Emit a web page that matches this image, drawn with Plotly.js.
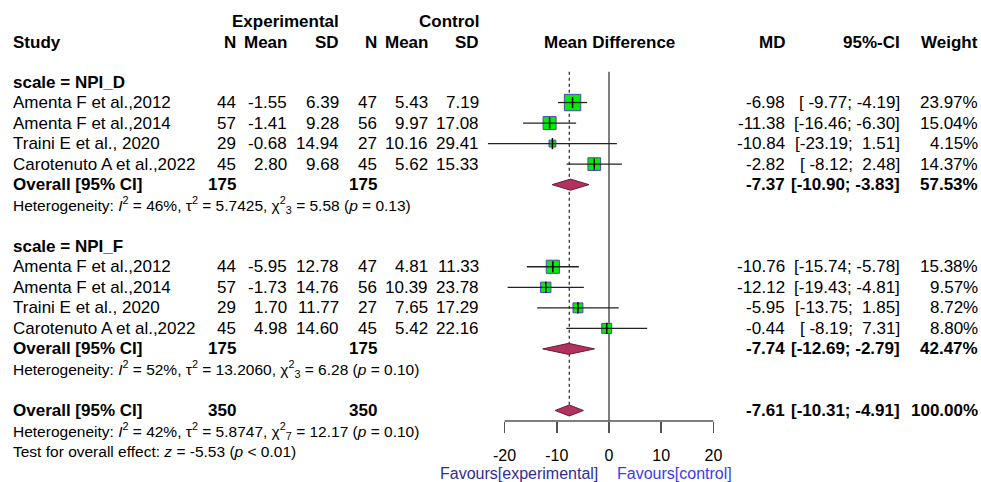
<!DOCTYPE html>
<html>
<head>
<meta charset="utf-8">
<script src="https://cdn.plot.ly/plotly-3.0.1.min.js"></script>
<style>html,body{margin:0;padding:0;background:#fff;}#chart{width:981px;height:482px;}</style>
</head>
<body>
<div id="chart"></div>
<script>
// ---------------- DATA ----------------
const studies = ["Amenta F et al.,2012", "Amenta F et al.,2014", "Traini E et al., 2020", "Carotenuto A et al.,2022"];
const groupLabels = ["scale = NPI_D", "scale = NPI_F"];

// NPI_D
const dExpN = [44, 57, 29, 45];
const dExpMean = [-1.55, -1.41, -0.68, 2.80];
const dExpSD = [6.39, 9.28, 14.94, 9.68];
const dCtlN = [47, 56, 27, 45];
const dCtlMean = [5.43, 9.97, 10.16, 5.62];
const dCtlSD = [7.19, 17.08, 29.41, 15.33];
const dMD = [-6.98, -11.38, -10.84, -2.82];
const dLo = [-9.77, -16.46, -23.19, -8.12];
const dHi = [-4.19, -6.30, 1.51, 2.48];
const dW = [23.97, 15.04, 4.15, 14.37];

// NPI_F
const fExpN = [44, 57, 29, 45];
const fExpMean = [-5.95, -1.73, 1.70, 4.98];
const fExpSD = [12.78, 14.76, 11.77, 14.60];
const fCtlN = [47, 56, 27, 45];
const fCtlMean = [4.81, 10.39, 7.65, 5.42];
const fCtlSD = [11.33, 23.78, 17.29, 22.16];
const fMD = [-10.76, -12.12, -5.95, -0.44];
const fLo = [-15.74, -19.43, -13.75, -8.19];
const fHi = [-5.78, -4.81, 1.85, 7.31];
const fW = [15.38, 9.57, 8.72, 8.80];

// Pooled: [NPI_D subgroup, NPI_F subgroup, overall]
const poolMD = [-7.37, -7.74, -7.61];
const poolLo = [-10.90, -12.69, -10.31];
const poolHi = [-3.83, -2.79, -4.91];
const poolW = [57.53, 42.47, 100.00];
const poolExpN = [175, 175, 350];
const poolCtlN = [175, 175, 350];

// Heterogeneity
const hetI2 = [46, 52, 42];
const hetTau2 = ["5.7425", "13.2060", "5.8747"];
const hetChi2 = ["5.58", "6.28", "12.17"];
const hetDf = [3, 3, 7];
const hetP = ["0.13", "0.10", "0.10"];
const testZ = "-5.53";
const testP = "< 0.01";

const xTicks = [-20, -10, 0, 10, 20];
const favLeft = "Favours[experimental]";
const favRight = "Favours[control]";

// ---------------- LAYOUT HELPERS ----------------
const W = 981, H = 482;
const row0px = 82, rowStep = 20.53;            // pixel of row 0 and row spacing
const yTop = -row0px / rowStep, yBot = (H - row0px) / rowStep;
const zeroPx = 609, pxPerUnit = 5.22, xHalf = 30;
const xDom = [(zeroPx - xHalf * pxPerUnit) / W, (zeroPx + xHalf * pxPerUnit) / W];
const axisPx = 421;
const axisPos = (H - axisPx) / H;
const px = p => p / W;

const FONT = "Liberation Sans, Arial, Helvetica, sans-serif";
const FS = 17, FSs = 15.5;

const groups = [
  {label: groupLabels[0], labelRow: 0, firstRow: 1, expN: dExpN, expMean: dExpMean, expSD: dExpSD, ctlN: dCtlN, ctlMean: dCtlMean, ctlSD: dCtlSD, md: dMD, lo: dLo, hi: dHi, w: dW},
  {label: groupLabels[1], labelRow: 8, firstRow: 9, expN: fExpN, expMean: fExpMean, expSD: fExpSD, ctlN: fCtlN, ctlMean: fCtlMean, ctlSD: fCtlSD, md: fMD, lo: fLo, hi: fHi, w: fW}
];
const poolRows = [5, 13, 16];
const hetRows = [6, 14, 17];
const testRow = 18;

// columns (right edges in px)
const col = {study: 12, expN: 237, expMean: 288, expSD: 340, ctlN: 378, ctlMean: 429, ctlSD: 480, md: 786, ci: 901, wt: 979};

const nb = "\u00A0";
function padL(s, n) { while (s.length < n) s = nb + s; return s; }
function ciStr(lo, hi, wl, wh) {
  return "[" + padL(lo.toFixed(2), wl) + "; " + padL(hi.toFixed(2), wh) + "]";
}
const wl = Math.max(...dLo.concat(fLo, poolLo).map(v => v.toFixed(2).length));
const wh = Math.max(...dHi.concat(fHi, poolHi).map(v => v.toFixed(2).length));

const ann = [];
function txt(text, xPx, row, anchor, opts) {
  opts = opts || {};
  ann.push({
    text: text, xref: "paper", x: px(xPx), yref: "y", y: row,
    xanchor: anchor, yanchor: "middle", showarrow: false, borderpad: 0,
    font: {family: FONT, size: opts.size || FS, color: opts.color || "#000"}
  });
}
const b = s => "<b>" + s + "</b>";

// headers
txt(b("Experimental"), col.expSD, -2.95, "right");
txt(b("Control"), col.ctlSD, -2.95, "right");
txt(b("Study"), col.study, -1.9, "left");
txt(b("N"), col.expN, -1.9, "right");
txt(b("Mean"), col.expMean, -1.9, "right");
txt(b("SD"), col.expSD, -1.9, "right");
txt(b("N"), col.ctlN, -1.9, "right");
txt(b("Mean"), col.ctlMean, -1.9, "right");
txt(b("SD"), col.ctlSD, -1.9, "right");
ann.push({text: b("Mean Difference"), xref: "x", x: 0, yref: "y", y: -1.9, xanchor: "center", yanchor: "middle", showarrow: false, borderpad: 0, font: {family: FONT, size: FS, color: "#000"}});
txt(b("MD"), col.md, -1.9, "right");
txt(b("95%-CI"), col.ci, -1.9, "right");
txt(b("Weight"), col.wt, -1.9, "right");

groups.forEach(g => {
  txt(b(g.label), col.study, g.labelRow, "left");
  studies.forEach((s, i) => {
    const r = g.firstRow + i;
    txt(s, col.study, r, "left");
    txt(String(g.expN[i]), col.expN, r, "right");
    txt(g.expMean[i].toFixed(2), col.expMean, r, "right");
    txt(g.expSD[i].toFixed(2), col.expSD, r, "right");
    txt(String(g.ctlN[i]), col.ctlN, r, "right");
    txt(g.ctlMean[i].toFixed(2), col.ctlMean, r, "right");
    txt(g.ctlSD[i].toFixed(2), col.ctlSD, r, "right");
    txt(g.md[i].toFixed(2), col.md, r, "right");
    txt(ciStr(g.lo[i], g.hi[i], wl, wh), col.ci, r, "right");
    txt(g.w[i].toFixed(2) + "%", col.wt, r, "right");
  });
});

poolRows.forEach((r, j) => {
  txt(b("Overall [95% CI]"), col.study, r, "left");
  txt(b(String(poolExpN[j])), col.expN, r, "right");
  txt(b(String(poolCtlN[j])), col.ctlN, r, "right");
  txt(b(poolMD[j].toFixed(2)), col.md, r, "right");
  txt(b(ciStr(poolLo[j], poolHi[j], wl, wh)), col.ci, r, "right");
  txt(b(poolW[j].toFixed(2) + "%"), col.wt, r, "right");
});

hetRows.forEach((r, j) => {
  const t = "Heterogeneity: <i>I</i><sup>2</sup> = " + hetI2[j] + "%, \u03C4<sup>2</sup> = " + hetTau2[j] +
    ", \u03C7<sup>2</sup><sub>" + hetDf[j] + "</sub> = " + hetChi2[j] + " (<i>p</i> = " + hetP[j] + ")";
  txt(t, col.study, r, "left", {size: FSs});
});
txt("Test for overall effect: <i>z</i> = " + testZ + " (<i>p</i> " + testP + ")", col.study, testRow, "left", {size: FSs});

// favours labels
ann.push({text: favLeft, xref: "paper", x: px(599), yref: "paper", y: 0, yshift: -1, xanchor: "right", yanchor: "bottom", showarrow: false, borderpad: 0, font: {family: FONT, size: 16, color: "#2e2e96"}});
ann.push({text: favRight, xref: "paper", x: px(616), yref: "paper", y: 0, yshift: -1, xanchor: "left", yanchor: "bottom", showarrow: false, borderpad: 0, font: {family: FONT, size: 16, color: "#3b3bf0"}});

// ---------------- TRACES ----------------
const traces = [];
groups.forEach(g => {
  const rows = g.md.map((_, i) => g.firstRow + i);
  // squares: one trace per study
  g.md.forEach((m, i) => {
    traces.push({
      type: "scatter", mode: "markers", x: [m], y: [rows[i]], hoverinfo: "skip", opacity: 1, cliponaxis: false,
      marker: {symbol: "square", opacity: 1, size: 3.35 * Math.sqrt(g.w[i]), color: "rgb(0,238,0)", line: {color: "rgb(80,68,192)", width: 1}}
    });
  });
  // CI lines
  const lx = [], ly = [];
  g.lo.forEach((lo, i) => { lx.push(lo, g.hi[i], null); ly.push(rows[i], rows[i], null); });
  traces.push({type: "scatter", mode: "lines", x: lx, y: ly, hoverinfo: "skip", line: {color: "#222", width: 1.3}});
  // center tick
  traces.push({type: "scatter", mode: "markers", x: g.md, y: rows, hoverinfo: "skip",
    marker: {symbol: "line-ns", size: 8, color: "#000", line: {color: "#000", width: 1.5}}});
});
// diamonds
const hd = 0.27;
poolRows.forEach((r, j) => {
  traces.push({
    type: "scatter", mode: "lines", fill: "toself", hoverinfo: "skip",
    x: [poolLo[j], poolMD[j], poolHi[j], poolMD[j], poolLo[j]],
    y: [r, r - hd, r, r + hd, r],
    fillcolor: "#b2325f", line: {color: "#6b1a38", width: 1}
  });
});

const shapes = [
  // no-effect line
  {type: "line", xref: "x", x0: 0, x1: 0, yref: "y", y0: -0.5, y1: (axisPx - row0px) / rowStep, line: {color: "#555", width: 1.5}, layer: "below"},
  // overall effect dotted line
  {type: "line", xref: "x", x0: poolMD[2], x1: poolMD[2], yref: "y", y0: -0.5, y1: poolRows[2] + hd, line: {color: "#333", width: 1.3, dash: "dot"}, layer: "below"},
  // axis line
  {type: "line", xref: "x", x0: xTicks[0], x1: xTicks[xTicks.length - 1], yref: "paper", y0: axisPos, y1: axisPos, line: {color: "#555", width: 1.5}}
];

const layout = {
  width: W, height: H, margin: {l: 0, r: 0, t: 0, b: 0},
  paper_bgcolor: "#fff", plot_bgcolor: "rgba(0,0,0,0)", showlegend: false,
  xaxis: {domain: xDom, range: [-xHalf, xHalf], showgrid: false, zeroline: false, showline: false,
    tickvals: xTicks, ticktext: xTicks.map(String), ticks: "outside", ticklen: 11, tickwidth: 1.5, tickcolor: "#555",
    anchor: "free", position: axisPos, tickfont: {family: FONT, size: 16, color: "#000"}, ticklabelstandoff: 9, fixedrange: true},
  yaxis: {domain: [0, 1], range: [yBot, yTop], showgrid: false, zeroline: false, showline: false, showticklabels: false, ticks: "", fixedrange: true},
  annotations: ann, shapes: shapes
};

Plotly.newPlot("chart", traces, layout, {displayModeBar: false, staticPlot: true});
</script>
</body>
</html>
